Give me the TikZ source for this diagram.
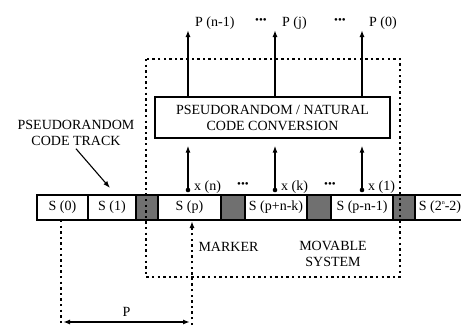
\documentclass[tikz,border=0pt]{standalone}
\usepackage{fontspec}
\setmainfont{Liberation Serif}
\usetikzlibrary{positioning, arrows.meta, calc}
\tikzset{>={Latex[length=7pt,width=5pt]}}
\definecolor{trackgray}{RGB}{112,112,112}
\tikzset{
    cell/.style={draw, line width=1.2pt, minimum height=25pt, inner sep=0pt, outer sep=0pt, anchor=west},
    gapcell/.style={cell, fill=trackgray},
    bus/.style={->, line width=1.5pt},
    dotline/.style={line width=1.5pt, dash pattern=on 2.4pt off 3.2pt},
    dotsym/.style={font=\fontsize{11}{12}\selectfont, inner sep=0pt},
    lbl/.style={anchor=base west, inner sep=0pt}
}

\begin{document}
\begin{tikzpicture}[x=1pt, y=-1pt, font=\fontsize{14}{16}\selectfont]
    \useasboundingbox (0,0) rectangle (461,325);
    % code track
    \node[cell, minimum width=51pt] (s0) at (37,207.5) {S (0)};
    \node[cell, minimum width=48pt, right=0pt of s0] (s1) {S (1)};
    \node[gapcell, minimum width=22pt, right=0pt of s1] (g1) {};
    \node[cell, minimum width=63pt, right=0pt of g1] (sp) {S (p)};
    \node[gapcell, minimum width=24pt, right=0pt of sp] (g2) {};
    \node[cell, minimum width=62pt, right=0pt of g2] (spnk) {S (p+n-k)};
    \node[gapcell, minimum width=24pt, right=0pt of spnk] (g3) {};
    \node[cell, minimum width=62pt, right=0pt of g3] (spn1) {S (p-n-1)};
    \node[gapcell, minimum width=22pt, right=0pt of spn1] (g4) {};
    \node[cell, minimum width=50pt, right=0pt of g4] (slast) {S (2\raisebox{1ex}{\fontsize{6}{7}\selectfont n}-2)};
    % movable system
    \draw[dotline] (146,59) rectangle (400,277);
    \node[draw, line width=1.3pt, minimum width=235pt, minimum height=41pt, align=center] (conv) at (272.5,117.5) {PSEUDORANDOM / NATURAL\\CODE CONVERSION};
    \foreach \x/\i/\ptext/\xtext in {188/a/{P (n-1)}/{x (n)}, 275/b/{P (j)}/{x (k)}, 362/c/{P (0)}/{x (1)}} {
        \coordinate (out\i) at (\x,30);
        \coordinate (in\i) at (\x,190);
        \draw[bus] (conv.north -| out\i) -- (out\i);
        \draw[bus, shorten >=7pt] (in\i) -- (in\i |- conv.south);
        \fill (in\i) circle (2.3pt);
        \node[lbl] (p\i) at ($(out\i)+(7,-4)$) {\ptext};
        \node[lbl] (x\i) at ($(in\i)+(6,0)$) {\xtext};
    }
    \node[dotsym] (dt1) at (261,21) {•••};
    \node[dotsym] (dt2) at (340,21) {•••};
    \node[dotsym] (db1) at (243,185) {•••};
    \node[dotsym] (db2) at (330,185) {•••};
    % track label
    \node[align=center] (tracklbl) at (76,132.5) {PSEUDORANDOM\\CODE TRACK};
    \coordinate (trk) at (110,188);
    \draw[->, line width=1.1pt] (tracklbl.south) -- (trk);
    % marker and offset
    \coordinate (mk) at (192,325);
    \coordinate (pa) at (61,325);
    \draw[dotline] (mk) -- ($(mk |- sp.south)+(0,9)$);
    \draw[->, line width=1.5pt] ($(mk |- sp.south)+(0,9)$) -- ($(mk |- sp.south)+(0,1)$);
    \draw[dotline] (pa |- s0.south) -- (pa);
    \node[anchor=west] (marker) at (195,247) {MARKER};
    \node[align=center] (movlbl) at (333,254) {MOVABLE\\SYSTEM};
    \coordinate (pl) at (61,322);
    \coordinate (pr) at (192,322);
    \draw[<->, line width=1.5pt, shorten <=2pt, shorten >=2pt] (pl) -- (pr) node[midway, above=1pt] (plbl) {P};
\end{tikzpicture}
\end{document}
